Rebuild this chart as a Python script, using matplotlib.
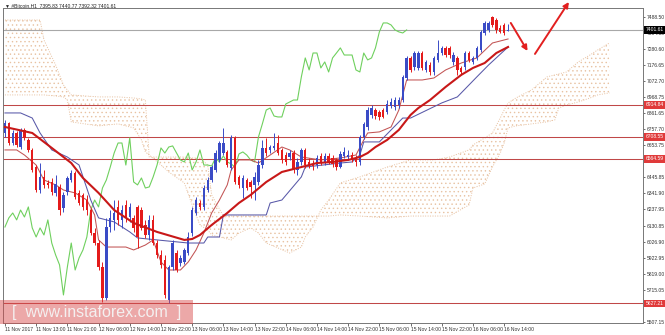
import matplotlib
matplotlib.use("Agg")
import matplotlib.pyplot as plt
from matplotlib.transforms import blended_transform_factory
from matplotlib.patches import Rectangle

plt.rcParams['font.family'] = ['Liberation Sans', 'DejaVu Sans']
plt.rcParams['hatch.linewidth'] = 0.5
plt.rcParams['hatch.color'] = '#e8c2a2'

# ---------------- data ----------------
opens = [6733,6798,6668,6733,6642,6753,6688,6623,6512,6363,
         6448,6409,6415,6344,6383,6247,6350,6428,6474,6344,
         6331,6298,6233,6084,6019,5863,5662,6123,6169,6253,
         6169,6266,6188,6182,6253,6233,6136,6071,6169,6019,
         5941,5909,5649,5863,5954,5890,5896,5954,6084,6214,
         6279,6253,6363,6428,6493,6558,6603,6610,6506,6701,
         6448,6376,6428,6415,6396,6415,6525,6636,6623,6636,
         6668,6623,6590,6577,6603,6493,6545,6623,6545,6532,
         6525,6584,6545,6584,6571,6558,6512,6584,6577,6590,
         6571,6545,6707,6772,6850,6882,6869,6882,6869,6908,
         6902,6915,6947,7090,7220,7161,7155,7252,7142,7174,
         7129,7207,7252,7285,7285,7194,7220,7155,7161,7252,
         7194,7220,7272,7382,7402,7486,7466,7415,7434,7395.83]
highs = [6818,6805,6753,6746,6766,6766,6701,6636,6525,6538,
         6493,6428,6441,6461,6402,6350,6454,6493,6487,6363,
         6344,6331,6247,6117,6039,5896,6182,6233,6298,6298,
         6266,6298,6279,6201,6266,6253,6169,6201,6201,6039,
         5974,5941,5877,6039,5974,5941,5987,6091,6253,6318,
         6298,6396,6448,6525,6623,6681,6766,6623,6720,6714,
         6461,6461,6441,6428,6480,6558,6688,6701,6655,6733,
         6720,6636,6610,6623,6623,6571,6636,6636,6571,6558,
         6590,6603,6603,6603,6590,6571,6616,6642,6623,6610,
         6590,6720,6805,6902,6915,6895,6882,6895,6947,6960,
         6967,6967,7110,7233,7233,7265,7265,7265,7207,7194,
         7233,7337,7298,7298,7298,7259,7233,7168,7265,7265,
         7233,7298,7402,7460,7460,7492,7479,7434,7447,7440.77]
lows = [6707,6655,6655,6642,6629,6688,6610,6480,6350,6344,
        6376,6376,6331,6324,6201,6220,6331,6415,6305,6266,
        6233,6201,6071,6006,5844,5636,5649,6091,6104,6136,
        6117,6156,6156,6091,5987,6104,6052,6039,6006,5922,
        5857,5662,5630,5844,5831,5870,5883,5941,6065,6201,
        6233,6233,6350,6415,6480,6545,6590,6512,6493,6402,
        6376,6311,6363,6311,6298,6396,6506,6584,6603,6623,
        6590,6538,6525,6558,6474,6461,6525,6506,6506,6493,
        6506,6525,6525,6532,6512,6493,6506,6571,6558,6545,
        6519,6525,6694,6753,6830,6824,6818,6830,6856,6895,
        6882,6895,6934,7077,7129,7142,7142,7142,7129,7110,
        7110,7194,7239,7226,7220,7174,7110,7110,7142,7194,
        7181,7207,7259,7369,7389,7421,7382,7382,7369,7392.32]
closes = [6798,6668,6733,6655,6753,6701,6623,6493,6363,6448,
          6396,6396,6350,6402,6233,6331,6441,6474,6318,6279,
          6253,6233,6084,6019,5863,5662,6123,6182,6214,6169,
          6233,6188,6253,6117,6058,6117,6071,6169,6019,5941,
          5877,5682,5863,6019,5844,5922,5974,6058,6233,6298,
          6253,6376,6428,6512,6603,6668,6668,6525,6701,6415,
          6396,6441,6376,6383,6448,6525,6636,6603,6642,6649,
          6603,6558,6545,6603,6493,6545,6623,6525,6525,6519,
          6571,6545,6584,6545,6532,6512,6597,6610,6590,6558,
          6545,6707,6792,6882,6895,6843,6837,6837,6921,6934,
          6947,6947,7097,7220,7142,7252,7252,7155,7194,7129,
          7220,7252,7285,7239,7239,7239,7142,7129,7252,7207,
          7220,7285,7389,7447,7447,7434,7402,7389,7382,7401.61]

# Tenkan-sen (thin red-brown)
tenkan_bars = [0,3,5,8,10,13,15,18,21,23,24,26,31,33,36,38,40,42,45,47,49,51,53,55,57,
               58,60,63,65,68,71,73,76,81,86,90,92,93,96,99,101,103,107,110,113,117,121,125,129]
tenkan_vals = [6623,6623,6590,6525,6428,6396,6363,6344,6298,6201,6039,5993,5993,5974,6006,
               6039,5896,5844,5844,5896,5974,6084,6214,6298,6396,6493,6558,6558,6538,6590,
               6642,6623,6577,6558,6571,6590,6688,6733,6740,6772,6882,7077,7077,7090,7142,
               7187,7220,7317,7343]
# Kijun-sen (thin blue)
kijun_bars = [0,4,7,9,12,16,19,22,24,28,32,34,39,47,51,52,55,56,67,68,71,76,77,86,89,
              91,92,96,102,104,112,116,121,124,129]
kijun_vals = [6863,6863,6830,6733,6623,6577,6525,6298,6182,6156,6091,6052,6039,6019,6019,
              6058,6058,6201,6201,6279,6298,6448,6512,6538,6545,6590,6675,6675,6830,6830,
              6928,6967,7097,7174,7291]
# Thick red moving average
ma_bars = [0,7,12,17,20,24,28,33,39,46,48,50,53,57,60,63,67,71,76,80,84,88,91,93,95,98,
           101,104,106,109,113,117,120,123,126,129]
ma_vals = [6772,6733,6636,6538,6441,6344,6233,6149,6091,6039,6045,6071,6136,6214,6279,6331,
           6415,6480,6512,6538,6545,6558,6577,6603,6642,6688,6753,6850,6895,6947,7032,7110,
           7155,7187,7252,7291]
# Senkou spans (cloud)
cloud_bars = [0,9,10,13,15,16,17,24,29,33,35,36,37,40,42,46,48,50,52,53,56,58,60,63,65,
              67,70,73,76,77,79,81,83,86,91,98,104,110,114,119,120,123,125,127,128,
              129,131,135,139,141,142,144,147,150,152,155]
senkou_a = [6980,6980,6980,6973,6967,6947,6805,6779,6792,6766,6688,6610,6590,6525,6480,
            6409,6266,6136,6104,6071,6052,6039,6084,6117,6084,6019,5987,5954,5993,6058,
            6123,6233,6298,6409,6448,6512,6558,6558,6577,6623,6655,6701,6733,6830,6882,
            6928,6960,7012,7097,7110,7116,7129,7194,7239,7272,7317]
senkou_b = [7466,7466,7337,7174,7045,7012,6980,6967,6967,6960,6954,6947,6577,6577,6577,
            6577,6571,6571,6525,6331,6194,6194,6194,6194,6194,6194,6194,6194,6194,6194,
            6194,6194,6194,6201,6194,6182,6194,6194,6194,6266,6376,6402,6512,6603,6668,
            6766,6779,6792,6805,6818,6895,6915,6934,6960,6980,6993]
chikou_shift = 26

levels = [6914.84, 6708.55, 6564.59, 5627.21]
last_price = 7401.61
y_ticks = [7488.50, 7384.55, 7280.60, 7176.65, 7072.70, 6968.75, 6861.65, 6757.70,
           6653.75, 6445.85, 6341.90, 6237.95, 6130.85, 6026.90, 5922.95,
           5819.00, 5715.05, 5507.15]
x_tick_bars = list(range(0, 129, 8))
x_labels = ["11 Nov 2017", "11 Nov 13:00", "11 Nov 21:00", "12 Nov 06:00", "12 Nov 14:00",
            "12 Nov 22:00", "13 Nov 06:00", "13 Nov 14:00", "13 Nov 22:00", "14 Nov 06:00",
            "14 Nov 14:00", "14 Nov 22:00", "15 Nov 06:00", "15 Nov 14:00", "15 Nov 22:00",
            "16 Nov 06:00", "16 Nov 14:00"]
title = "\u25bc #Bitcoin,H1  7395.83 7440.77 7392.32 7401.61"
arrows = [((129.7, 7447), (134.0, 7265)), ((135.9, 7246), (144.6, 7583))]

# ---------------- styling ----------------
BULL = '#3a4bc6'
BEAR = '#e41b1b'
CLOUD = '#e8c2a2'

fig = plt.figure(figsize=(6.65, 3.35), dpi=100)
fig.patch.set_facecolor('white')
ax = fig.add_axes([3/665, 12/335, 640/665, 315/335])
ax.set_xlim(-0.5, 163.6)
ax.set_ylim(5500, 7544)

# cloud
ax.fill_between(cloud_bars, senkou_a, senkou_b, facecolor='none', edgecolor=CLOUD,
                hatch='....', linewidth=0, zorder=1)
ax.plot(cloud_bars, senkou_a, color=CLOUD, lw=0.7, ls=(0, (1, 1.5)), zorder=1)
ax.plot(cloud_bars, senkou_b, color=CLOUD, lw=0.7, ls=(0, (1, 1.5)), zorder=1)

# horizontal levels
for lv in levels:
    ax.axhline(lv, color='#c04848', lw=0.75, zorder=2)
ax.axhline(last_price, color='#a8a8a8', lw=0.8, zorder=2)

# indicator lines
n = len(closes)
ax.plot(range(n - chikou_shift), closes[chikou_shift:], color='#6fd05e', lw=0.8, zorder=3)
ax.plot(tenkan_bars, tenkan_vals, color='#c25454', lw=0.75, zorder=3)
ax.plot(kijun_bars, kijun_vals, color='#5858a8', lw=0.75, zorder=3)
ax.plot(ma_bars, ma_vals, color='#c81818', lw=1.5, zorder=6)

# candles
for i, (o, h, l, c) in enumerate(zip(opens, highs, lows, closes)):
    col = BULL if c >= o else BEAR
    ax.vlines(i, l, h, color=col, lw=0.7, zorder=4)
    ax.bar(i, max(abs(c - o), 4), bottom=min(o, c), width=0.62, color=col,
           linewidth=0, zorder=5)

# arrows
for (sx, sy), (ex, ey) in arrows:
    ax.annotate("", xy=(ex, ey), xytext=(sx, sy), annotation_clip=False,
                arrowprops=dict(arrowstyle='-|>', color='#e21f1f', lw=1.4,
                                mutation_scale=8, shrinkA=0, shrinkB=0))

# axes styling
for sp in ax.spines.values():
    sp.set_color('#777777')
    sp.set_linewidth(0.7)
ax.yaxis.tick_right()
ax.set_yticks(y_ticks)
ax.set_yticklabels([f"{v:.2f}" for v in y_ticks])
ax.tick_params(axis='y', labelsize=3.6, length=1.5, width=0.5, pad=1.2,
               colors='#333333')
ax.set_xticks(x_tick_bars)
ax.set_xticklabels(x_labels, ha='left')
ax.tick_params(axis='x', labelsize=3.6, length=2, width=0.5, pad=1.2, colors='#333333')

# value boxes on the price axis
tr = blended_transform_factory(ax.transAxes, ax.transData)
for lv in levels:
    ax.text(1.004, lv, f"{lv:.2f}", transform=tr, fontsize=3.6, color='white',
            va='center', ha='left', zorder=10, clip_on=False,
            bbox=dict(facecolor='#e03a3a', edgecolor='none', pad=0.9))
ax.text(1.004, last_price, f"{last_price:.2f}", transform=tr, fontsize=3.6,
        color='white', va='center', ha='left', zorder=10, clip_on=False,
        bbox=dict(facecolor='black', edgecolor='none', pad=0.9))

# title
fig.text(5/665, 1 - 6/335, title, fontsize=3.6, color='#222222', va='center', ha='left')

# watermark
fig.patches.append(Rectangle((0, 11/335), 193/665, 24/335, transform=fig.transFigure,
                             facecolor='#d94a4a', alpha=0.48, edgecolor='none', zorder=20))
fig.text(97/665, 1 - 312/335, "[  www.instaforex.com  ]", fontsize=11.5,
         color='#f4f0f0', ha='center', va='center', zorder=21)

fig.savefig('out.png', dpi=100)
